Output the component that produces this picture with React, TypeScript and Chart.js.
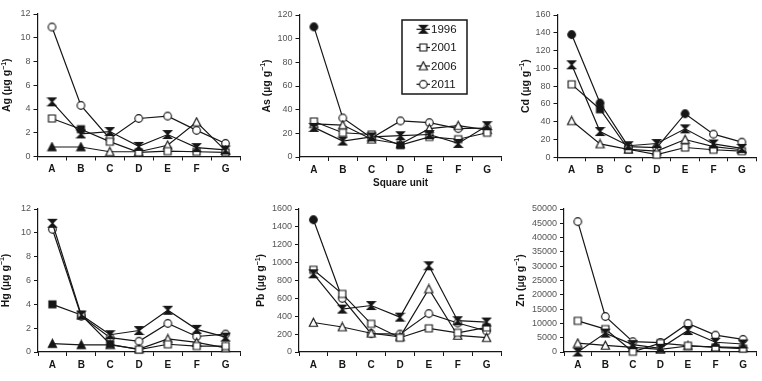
import { useEffect, useRef } from 'react';
import { Chart, registerables } from 'chart.js';

Chart.register(...registerables);

// Sampling squares and survey years
const categories = ['A', 'B', 'C', 'D', 'E', 'F', 'G'];
const years = ['1996', '2001', '2006', '2011'];

// Ag (µg g-1)
const ag1996 = [4.6, 1.9, 2.1, 0.85, 1.85, 0.75, 0.55];
const ag2001 = [3.2, 2.3, 1.25, 0.35, 0.45, 0.4, 0.35];
const ag2006 = [0.8, 0.8, 0.4, 0.4, 0.95, 2.9, 0.5];
const ag2011 = [10.9, 4.3, 1.5, 3.2, 3.4, 2.2, 1.1];

// As (µg g-1)
const as1996 = [25, 13.5, 17, 18, 19, 11.5, 26.5];
const as2001 = [30, 20.5, 19, 10, 17, 15, 20.5];
const as2006 = [28, 27, 15, 11, 24, 26.5, 23];
const as2011 = [110, 33, 16, 30.5, 29, 24, 24.5];

// Cd (µg g-1)
const cd1996 = [104, 29, 13, 15.5, 32, 15, 10];
const cd2001 = [82, 54, 9, 3, 11, 8.5, 7];
const cd2006 = [41, 15, 9, 7, 20, 12, 8.5];
const cd2011 = [138, 61, 12, 11, 49, 26, 17];

// Hg (µg g-1)
const hg1996 = [10.8, 3.1, 1.45, 1.8, 3.5, 1.9, 1.25];
const hg2001 = [4.0, 3.1, 0.65, 0.2, 0.65, 0.5, 0.5];
const hg2006 = [0.7, 0.6, 0.6, 0.25, 1.1, 0.8, 0.35];
const hg2011 = [10.3, 3.0, 1.2, 0.9, 2.4, 1.3, 1.5];

// Pb (µg g-1)
const pb1996 = [875, 480, 520, 390, 965, 350, 335];
const pb2001 = [920, 650, 315, 160, 265, 215, 275];
const pb2006 = [330, 280, 210, 170, 705, 185, 160];
const pb2011 = [1480, 600, 205, 200, 430, 325, 235];

// Zn (µg g-1)
const zn1996 = [0, 6600, 2600, 1300, 7500, 3400, 2800];
const zn2001 = [10900, 8000, 100, 3100, 2200, 1600, 1200];
const zn2006 = [3100, 2300, 1600, 900, 2100, 1800, 1500];
const zn2011 = [45600, 12400, 3600, 3300, 10000, 5900, 4400];

const FONT = '"Liberation Sans", Arial, Helvetica, sans-serif';
const INK = '#161616';
const markerKinds = ['hourglass', 'square', 'triangle', 'circle'];

type PanelDef = {
  symbol: string;
  series: number[][];
  max: number;
  step: number;
  box: { x: number; y: number; w: number; h: number };
  area: { l: number; r: number; t: number; b: number };
  titleX: number;
  filled: number[][];
  legend?: boolean;
  xTitle?: string;
};

const panels: PanelDef[] = [
  {
    symbol: 'Ag', series: [ag1996, ag2001, ag2006, ag2011], max: 12, step: 2,
    box: { x: 0, y: 0, w: 254, h: 190 }, area: { l: 37.5, r: 240, t: 14, b: 156.5 },
    titleX: 7.5, filled: [[], [1], [0, 1], []],
  },
  {
    symbol: 'As', series: [as1996, as2001, as2006, as2011], max: 120, step: 20,
    box: { x: 254, y: 0, w: 254, h: 190 }, area: { l: 45.5, r: 247.5, t: 15, b: 157 },
    titleX: 13, filled: [[], [3], [], [0]], legend: true, xTitle: 'Square unit',
  },
  {
    symbol: 'Cd', series: [cd1996, cd2001, cd2006, cd2011], max: 160, step: 20,
    box: { x: 508, y: 0, w: 254, h: 190 }, area: { l: 49.5, r: 248, t: 15, b: 157.3 },
    titleX: 18, filled: [[], [1], [], [0, 1, 4]],
  },
  {
    symbol: 'Hg', series: [hg1996, hg2001, hg2006, hg2011], max: 12, step: 2,
    box: { x: 0, y: 190, w: 254, h: 191 }, area: { l: 38, r: 240, t: 19, b: 162 },
    titleX: 6, filled: [[], [0, 2], [0, 1], []],
  },
  {
    symbol: 'Pb', series: [pb1996, pb2001, pb2006, pb2011], max: 1600, step: 200,
    box: { x: 254, y: 190, w: 254, h: 191 }, area: { l: 45, r: 247, t: 19, b: 162 },
    titleX: 7.5, filled: [[], [], [], [0]],
  },
  {
    symbol: 'Zn', series: [zn1996, zn2001, zn2006, zn2011], max: 50000, step: 5000,
    box: { x: 508, y: 190, w: 254, h: 191 }, area: { l: 56, r: 252, t: 19, b: 162 },
    titleX: 13, filled: [[], [], [], []],
  },
];

// Small bitmap markers, one per series style (open or solid)
function makeMarker(kind: string, filled: boolean): HTMLCanvasElement {
  const c = document.createElement('canvas');
  c.width = 11;
  c.height = 11;
  const g = c.getContext('2d')!;
  g.lineWidth = 1.15;
  g.strokeStyle = INK;
  g.fillStyle = filled ? INK : '#ffffff';
  g.beginPath();
  if (kind === 'circle') {
    g.arc(5.5, 5.5, 3.8, 0, Math.PI * 2);
  } else if (kind === 'square') {
    g.rect(2, 2, 7, 7);
  } else if (kind === 'triangle') {
    g.moveTo(5.5, 1.2);
    g.lineTo(9.6, 9.2);
    g.lineTo(1.4, 9.2);
    g.closePath();
  } else {
    g.moveTo(1.5, 1.5);
    g.lineTo(9.5, 1.5);
    g.lineTo(5.5, 5.5);
    g.lineTo(9.5, 9.5);
    g.lineTo(1.5, 9.5);
    g.lineTo(5.5, 5.5);
    g.closePath();
    g.fillStyle = INK;
  }
  g.fill();
  g.stroke();
  return c;
}

function drawYTitle(ctx: CanvasRenderingContext2D, symbol: string, x: number, y: number) {
  const main = `${symbol} (µg g`;
  const sup = '−1';
  const tail = ')';
  const big = `bold 10.5px ${FONT}`;
  const small = `bold 7px ${FONT}`;
  ctx.save();
  ctx.translate(x, y);
  ctx.rotate(-Math.PI / 2);
  ctx.fillStyle = INK;
  ctx.textBaseline = 'middle';
  ctx.textAlign = 'left';
  ctx.font = big;
  const w1 = ctx.measureText(main).width;
  const w3 = ctx.measureText(tail).width;
  ctx.font = small;
  const w2 = ctx.measureText(sup).width;
  let cx = -(w1 + w2 + w3) / 2;
  ctx.font = big;
  ctx.fillText(main, cx, 0);
  cx += w1;
  ctx.font = small;
  ctx.fillText(sup, cx, -3.5);
  cx += w2;
  ctx.font = big;
  ctx.fillText(tail, cx, 0);
  ctx.restore();
}

function Panel({ p }: { p: PanelDef }) {
  const ref = useRef<HTMLCanvasElement | null>(null);

  useEffect(() => {
    const canvas = ref.current;
    if (!canvas) return;
    const markers = markerKinds.map((k) => ({ open: makeMarker(k, false), solid: makeMarker(k, true) }));

    const decor = {
      id: 'panelDecor',
      afterDraw(chart: Chart) {
        const ctx = chart.ctx;
        const a = chart.chartArea;
        drawYTitle(ctx, p.symbol, p.titleX, (a.top + a.bottom) / 2);
        if (p.xTitle) {
          ctx.save();
          ctx.font = `bold 10px ${FONT}`;
          ctx.fillStyle = INK;
          ctx.textAlign = 'center';
          ctx.textBaseline = 'middle';
          ctx.fillText(p.xTitle, (a.left + a.right) / 2, 183);
          ctx.restore();
        }
        if (p.legend) {
          ctx.save();
          ctx.strokeStyle = INK;
          ctx.lineWidth = 1.5;
          ctx.strokeRect(148, 20, 65, 74);
          const rows = [29.3, 47.5, 66, 84.3];
          years.forEach((yr, i) => {
            const y = rows[i];
            ctx.strokeStyle = INK;
            ctx.lineWidth = 1.2;
            ctx.beginPath();
            ctx.moveTo(162.5, y);
            ctx.lineTo(176, y);
            ctx.stroke();
            const m = markers[i].open;
            ctx.drawImage(m, 169.3 - m.width / 2, y - m.height / 2);
            ctx.font = `11.5px ${FONT}`;
            ctx.fillStyle = INK;
            ctx.textAlign = 'left';
            ctx.textBaseline = 'middle';
            ctx.fillText(yr, 177, y + 0.5);
          });
          ctx.restore();
        }
      },
    };

    const chart = new Chart(canvas, {
      type: 'line',
      data: {
        labels: categories,
        datasets: years.map((yr, i) => ({
          label: yr,
          data: p.series[i],
          borderColor: INK,
          borderWidth: 1.2,
          tension: 0,
          pointRadius: 4,
          clip: false as any,
          pointStyle: p.series[i].map((_, j) =>
            p.filled[i].includes(j) ? markers[i].solid : markers[i].open
          ) as any,
        })),
      },
      options: {
        animation: false,
        responsive: false,
        devicePixelRatio: 1,
        events: [],
        layout: { padding: { left: 0, top: p.area.t, right: p.box.w - p.area.r, bottom: 0 } },
        plugins: { legend: { display: false }, tooltip: { enabled: false } },
        scales: {
          x: {
            type: 'category',
            offset: true,
            grid: { display: true, drawOnChartArea: false, drawTicks: true, tickLength: 4, offset: true, color: INK, lineWidth: 1 },
            border: { display: true, color: INK, width: 1.2 },
            ticks: { color: INK, font: { family: FONT, size: 10, weight: 'bold' }, padding: 3, maxRotation: 0, autoSkip: false },
            afterFit: (s: any) => { s.height = p.box.h - p.area.b; },
          },
          y: {
            type: 'linear',
            min: 0,
            max: p.max,
            ticks: { stepSize: p.step, color: '#555555', font: { family: FONT, size: 9 }, padding: 3, callback: (v: any) => String(v) },
            grid: { display: true, drawOnChartArea: false, drawTicks: true, tickLength: 4, color: INK, lineWidth: 1 },
            border: { display: true, color: INK, width: 1.2 },
            afterFit: (s: any) => { s.width = p.area.l; },
          },
        },
      },
      plugins: [decor],
    });
    return () => chart.destroy();
  }, [p]);

  return (
    <canvas
      ref={ref}
      width={p.box.w}
      height={p.box.h}
      style={{ position: 'absolute', left: p.box.x, top: p.box.y, width: p.box.w, height: p.box.h }}
    />
  );
}

export default function App() {
  return (
    <div style={{ position: 'absolute', left: 0, top: 0, width: 762, height: 381, background: '#ffffff', overflow: 'hidden' }}>
      {panels.map((p) => (
        <Panel key={p.symbol} p={p} />
      ))}
    </div>
  );
}
